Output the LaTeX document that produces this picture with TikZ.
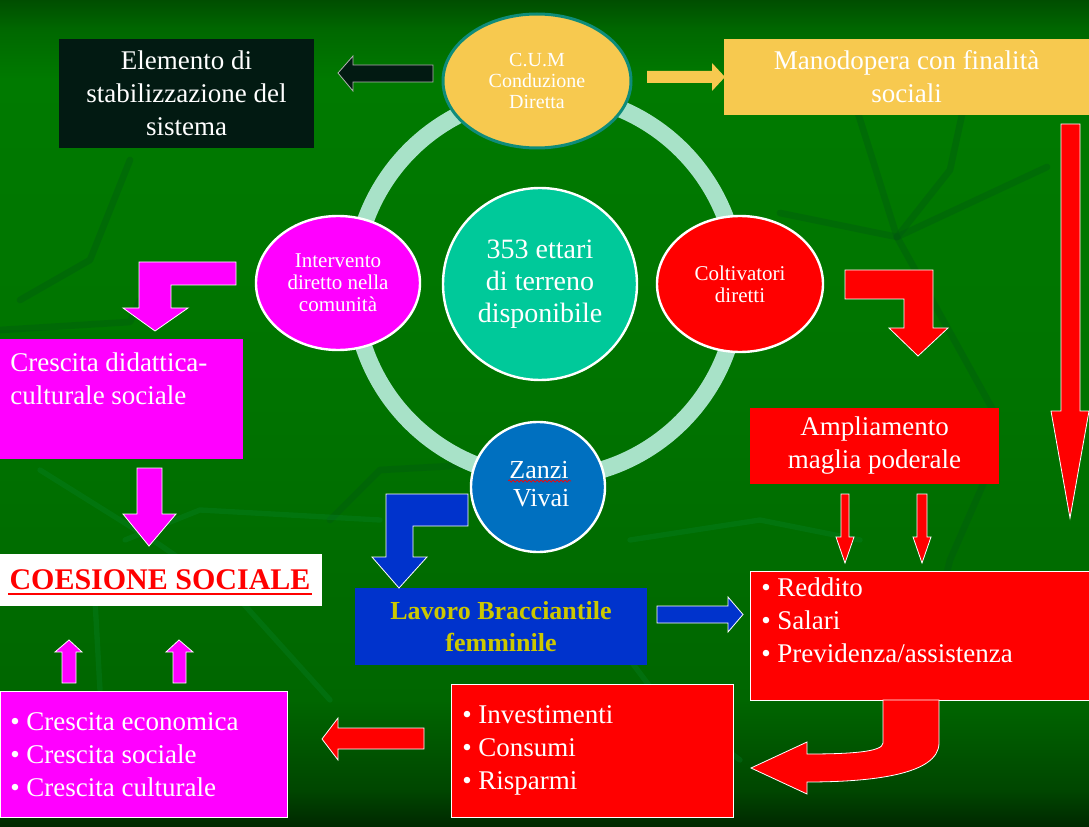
\documentclass[tikz,border=0pt]{standalone}
\usepackage{fontspec}
\setmainfont{Liberation Serif}
\usetikzlibrary{shapes.geometric,decorations.pathmorphing}
\definecolor{darkbox}{HTML}{021A12}
\definecolor{cumyel}{HTML}{F7C94F}
\definecolor{cumedge}{HTML}{0E8C7A}
\definecolor{mag}{HTML}{FF00FF}
\definecolor{rd}{HTML}{FF0000}
\definecolor{bluebox}{HTML}{0033CC}
\definecolor{zanzicol}{HTML}{0070C0}
\definecolor{tealc}{HTML}{00C99A}
\definecolor{ringcol}{HTML}{A8E2C8}
\definecolor{lavtext}{HTML}{CCC800}
\definecolor{leafdark}{HTML}{005A10}
\definecolor{leaflight}{HTML}{0A8A3A}
\definecolor{bgA}{HTML}{002800}
\definecolor{bgB}{HTML}{004600}
\definecolor{bgC}{HTML}{006600}
\definecolor{bgD}{HTML}{007300}
\definecolor{bgE}{HTML}{007A00}
\definecolor{bgF}{HTML}{006800}
\definecolor{bgG}{HTML}{004E00}
\pgfdeclareverticalshading{bgshade}{100bp}{color(0bp)=(bgA); color(25bp)=(bgA); color(27.2bp)=(bgB); color(32.7bp)=(bgC); color(50.8bp)=(bgD); color(70.2bp)=(bgE); color(73.2bp)=(bgF); color(75bp)=(bgG); color(100bp)=(bgG)}
\newcommand\myfbig{\fontsize{20.25pt}{24.75pt}\selectfont}
\newcommand\myfell{\fontsize{15.75pt}{16.5pt}\selectfont}
\newcommand\myfcum{\fontsize{15pt}{15.75pt}\selectfont}
\newcommand\myfctr{\fontsize{21pt}{24pt}\selectfont}
\newcommand\myfzan{\fontsize{19.5pt}{21pt}\selectfont}
\newcommand\myfcoes{\fontsize{22.5pt}{26pt}\selectfont}
\newcommand\myflav{\fontsize{19.5pt}{24pt}\selectfont}
\begin{document}
\begin{tikzpicture}[x=0.75pt,y=-0.75pt,
  box/.style={rectangle, inner sep=0pt, text=white, align=center, font=\myfbig},
  txt/.style={inner sep=0pt, text=white, align=left, font=\myfbig, anchor=west},
  ell/.style={ellipse, inner sep=0pt, draw=white, line width=1.8pt, text=white, align=center},
  blockarrow/.style={draw=white, line width=0.6pt},
  leafd/.style={leafdark, line width=5pt, opacity=0.4, line cap=round, line join=round},
  leafl/.style={leaflight, line width=4pt, opacity=0.25, line cap=round, line join=round}
]
\useasboundingbox (0,0) rectangle (1089,827);
\fill[shading=bgshade] (0,0) rectangle (1089,827);

% faint leaf veins of the background
\draw[leafd] (857,110) -- (897,237) -- (993,410);
\draw[leafd] (963,110) -- (950,170) -- (897,237);
\draw[leafd] (780,213) -- (897,237);
\draw[leafd] (897,237) -- (1047,167);
\draw[leafd] (20,300) -- (90,260) -- (130,160);
\draw[leafd] (0,330) -- (130,322) -- (140,300);
\draw[leafd] (330,520) -- (380,470) -- (470,465);
\draw[leafd] (985,480) -- (950,560) -- (935,620);
\draw[leafl] (40,470) -- (160,545) -- (240,600) -- (330,700);
\draw[leafl] (125,540) -- (200,510) -- (380,520);
\draw[leafl] (100,690) -- (95,600) -- (110,560);
\draw[leafl] (600,620) -- (660,700) -- (740,760);
\draw[leafl] (630,540) -- (760,520) -- (860,540);

% ring
\draw[ringcol, line width=12.75pt] (546,286) circle[radius=192];

% ellipses
\node[ell, draw=cumedge, line width=2.25pt, fill=cumyel, minimum width=141pt, minimum height=100.5pt, font=\myfcum] (cum) at (537,81) {C.U.M\\Conduzione\\Diretta};
\node[ell, fill=mag, minimum width=123pt, minimum height=100.5pt, font=\myfell] (interv) at (338,283) {Intervento\\diretto nella\\comunità};
\node[ell, fill=rd, minimum width=124.5pt, minimum height=102pt, font=\myfell] (colt) at (740,284) {Coltivatori\\diretti};
\node[ell, fill=tealc, minimum width=145.5pt, minimum height=144pt, font=\myfctr] (terreno) at (540,284) {353 ettari\\di terreno\\disponibile};
\node[ell, fill=zanzicol, minimum width=100.5pt, minimum height=97.5pt, font=\myfzan] (zanzi) at (538,487) {};
\node[inner sep=0pt, text=white, align=center, font=\myfzan] (zanzit) at (539,484) {Zanzi\\\,Vivai};
\draw[rd, line width=0.5pt, decorate, decoration={snake, amplitude=0.9pt, segment length=3pt}] (508,481) -- (571,481);

% boxes
\node[box, fill=darkbox, minimum width=191.25pt, minimum height=81.75pt] (stab) at (186.5,93.5) {Elemento di\\stabilizzazione del\\sistema};
\node[box, fill=cumyel, minimum width=273.75pt, minimum height=57pt] (mano) at (906.5,77) {Manodopera con finalità\\sociali};
\node[box, fill=mag, minimum width=182.25pt, minimum height=90pt] (cresdid) at (121.5,399) {};
\node[txt] (cresdidt) at (10,379) {Crescita didattica-\\culturale sociale};
\node[box, fill=white, minimum width=241.5pt, minimum height=39pt] (coes) at (161,580) {};
\node[inner sep=0pt, text=rd, font=\myfcoes\bfseries] (coest) at (160,580) {COESIONE SOCIALE};
\draw[rd, line width=1.5pt] (8,594) -- (312,594);
\node[box, fill=mag, draw=white, line width=0.6pt, minimum width=215.25pt, minimum height=94.5pt] (cresb) at (143.5,754) {};
\node[txt] (cresbt) at (10,755) {\textbullet\ Crescita economica\\\textbullet\ Crescita sociale\\\textbullet\ Crescita culturale};
\node[box, fill=bluebox, minimum width=219pt, minimum height=57.75pt, text=lavtext, font=\myflav\bfseries] (lavoro) at (501,626.5) {Lavoro Bracciantile\\femminile};
\node[box, fill=rd, minimum width=186.75pt, minimum height=57pt] (ampl) at (874.5,446) {Ampliamento\\maglia poderale};
\node[box, fill=rd, draw=white, line width=0.6pt, minimum width=254.25pt, minimum height=96.75pt] (reddito) at (919.5,635.5) {};
\node[txt] (redditot) at (761,620) {\textbullet\ Reddito\\\textbullet\ Salari\\\textbullet\ Previdenza/assistenza};
\node[box, fill=rd, draw=white, line width=0.6pt, minimum width=211.5pt, minimum height=99.75pt] (invest) at (592,750.5) {};
\node[txt] (investt) at (462,750) {\textbullet\ Investimenti\\\textbullet\ Consumi\\\textbullet\ Risparmi};

% block arrows
\filldraw[fill=darkbox, draw=gray!60, line width=0.6pt] (433,65) -- (353,65) -- (353,56) -- (338,73) -- (353,91) -- (353,82) -- (433,82) -- cycle;
\fill[cumyel] (647,71) -- (712,71) -- (712,63) -- (725,77) -- (712,91) -- (712,83) -- (647,83) -- cycle;
\filldraw[blockarrow, fill=rd] (1061,124) -- (1080,124) -- (1080,411) -- (1089,411) -- (1070,518) -- (1051,411) -- (1061,411) -- cycle;
\filldraw[blockarrow, fill=mag] (139,262) -- (236,262) -- (236,285) -- (171,285) -- (171,308) -- (188,308) -- (155,331) -- (123,308) -- (139,308) -- cycle;
\filldraw[blockarrow, fill=mag] (137,468) -- (162,468) -- (162,514) -- (176,514) -- (149,546) -- (123,514) -- (137,514) -- cycle;
\filldraw[blockarrow, fill=mag] (62,683) -- (62,652) -- (55,652) -- (69,640) -- (82,652) -- (76,652) -- (76,683) -- cycle;
\filldraw[blockarrow, fill=mag] (173,683) -- (173,652) -- (166,652) -- (179,640) -- (193,652) -- (186,652) -- (186,683) -- cycle;
\filldraw[blockarrow, fill=rd] (424,728) -- (424,749) -- (338,749) -- (338,760) -- (322,739) -- (338,718) -- (338,728) -- cycle;
\filldraw[blockarrow, fill=rd] (845,270) -- (933,270) -- (933,328) -- (948,328) -- (918,356) -- (889,328) -- (904,328) -- (904,299) -- (845,299) -- cycle;
\filldraw[blockarrow, fill=rd] (841,494) -- (849,494) -- (849,537) -- (854,537) -- (845,563) -- (836,537) -- (841,537) -- cycle;
\filldraw[blockarrow, fill=rd] (917,494) -- (927,494) -- (927,537) -- (931,537) -- (922,563) -- (913,537) -- (917,537) -- cycle;
\filldraw[blockarrow, fill=bluebox] (386,494) -- (468,494) -- (468,526) -- (413,526) -- (413,557) -- (427,557) -- (399,588) -- (372,557) -- (386,557) -- cycle;
\filldraw[blockarrow, fill=bluebox] (657,606) -- (728,606) -- (728,597) -- (743,614.5) -- (728,632) -- (728,623) -- (657,623) -- cycle;
\filldraw[blockarrow, fill=rd] (883,700) -- (939,700) -- (939,743) .. controls (939,775) and (870,782) .. (807,782) -- (807,794) -- (751,768) -- (807,742) -- (807,754) .. controls (850,754) and (883,752) .. (883,743) -- cycle;
\end{tikzpicture}
\end{document}
